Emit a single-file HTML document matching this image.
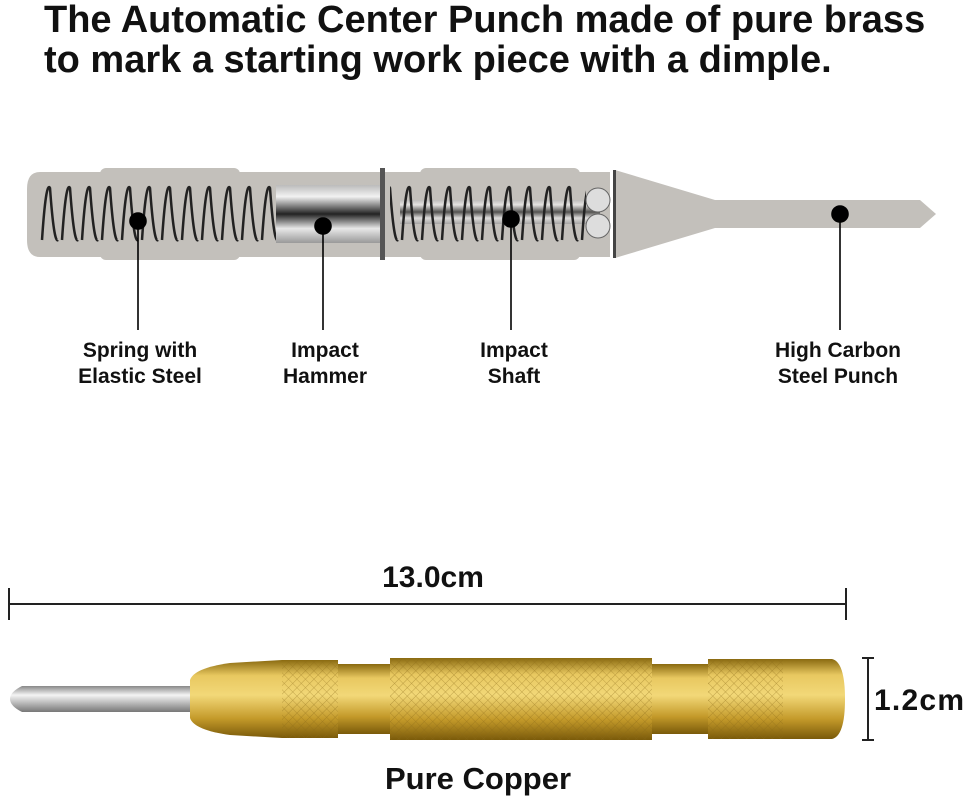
<!DOCTYPE html>
<html><head><meta charset="utf-8"><style>
html,body{margin:0;padding:0;background:#fff;}
body{width:971px;height:804px;overflow:hidden;font-family:"Liberation Sans",Arial,sans-serif;}
</style></head><body>
<svg width="971" height="804" viewBox="0 0 971 804" xmlns="http://www.w3.org/2000/svg" font-family="Liberation Sans, Arial, sans-serif">
<defs>
<linearGradient id="cyl" x1="0" y1="0" x2="0" y2="1">
<stop offset="0" stop-color="#bbb"/><stop offset="0.2" stop-color="#f2f2f2"/><stop offset="0.5" stop-color="#222"/><stop offset="0.75" stop-color="#e8e8e8"/><stop offset="1" stop-color="#999"/></linearGradient>
<linearGradient id="gold" x1="0" y1="0" x2="0" y2="1">
<stop offset="0" stop-color="#8a6a10"/><stop offset="0.2" stop-color="#e8c860"/><stop offset="0.45" stop-color="#f2d878"/><stop offset="0.75" stop-color="#c49a2a"/><stop offset="1" stop-color="#7a5a0a"/></linearGradient>
<linearGradient id="steel" x1="0" y1="0" x2="0" y2="1">
<stop offset="0" stop-color="#888"/><stop offset="0.35" stop-color="#f4f4f4"/><stop offset="1" stop-color="#777"/></linearGradient>
<pattern id="knurl" width="6" height="6" patternUnits="userSpaceOnUse" patternTransform="rotate(45)">
<path d="M0 0H6M0 0V6" stroke="#8a6a18" stroke-width="0.8" opacity="0.6"/></pattern>
<pattern id="spring" width="20" height="60" patternUnits="userSpaceOnUse" x="40" y="184">
<path d="M2 56 Q6 -4 10 4 Q14 60 18 56" fill="none" stroke="#222" stroke-width="2.5"/></pattern>
</defs>
<text x="44" y="32" font-size="38" font-weight="bold" fill="#111">The Automatic Center Punch made of pure brass</text>
<text x="44" y="72" font-size="38" font-weight="bold" fill="#111">to mark a starting work piece with a dimple.</text>

<!-- top punch -->
<path d="M40 172 H610 V257 H40 Q27 257 27 240 V189 Q27 172 40 172Z" fill="#c3c0bb"/>
<rect x="100" y="168" width="140" height="92" rx="6" fill="#c3c0bb"/>
<rect x="420" y="168" width="160" height="92" rx="6" fill="#c3c0bb"/>
<path d="M615 170 L715 200 V228 L615 258Z" fill="#c3c0bb"/>
<path d="M715 200 H920 L936 214 L920 228 H715Z" fill="#c3c0bb"/>
<rect x="40" y="184" width="236" height="60" fill="url(#spring)"/>
<rect x="276" y="185" width="104" height="58" fill="url(#cyl)"/>
<rect x="380" y="168" width="5" height="92" fill="#555"/>
<rect x="400" y="200" width="200" height="24" fill="url(#cyl)" opacity="0.7"/>
<rect x="390" y="184" width="196" height="60" fill="url(#spring)"/>
<circle cx="598" cy="200" r="12" fill="#ddd" stroke="#666"/><circle cx="598" cy="226" r="12" fill="#ddd" stroke="#666"/>
<rect x="613" y="170" width="3" height="88" fill="#444"/>
<g fill="#000" stroke="#000" stroke-width="1.6">
<circle cx="138" cy="221" r="8"/><line x1="138" y1="221" x2="138" y2="330"/>
<circle cx="323" cy="226" r="8"/><line x1="323" y1="226" x2="323" y2="330"/>
<circle cx="511" cy="219" r="8"/><line x1="511" y1="219" x2="511" y2="330"/>
<circle cx="840" cy="214" r="8"/><line x1="840" y1="214" x2="840" y2="330"/>
</g>
<g font-size="21" font-weight="bold" fill="#111" text-anchor="middle">
<text x="140" y="357">Spring with</text><text x="140" y="383">Elastic Steel</text>
<text x="325" y="357">Impact</text><text x="325" y="383">Hammer</text>
<text x="514" y="357">Impact</text><text x="514" y="383">Shaft</text>
<text x="838" y="357">High Carbon</text><text x="838" y="383">Steel Punch</text>
</g>

<!-- dimension -->
<text x="433" y="587" font-size="30" font-weight="bold" fill="#111" text-anchor="middle">13.0cm</text>
<g stroke="#222" stroke-width="2"><line x1="9" y1="604" x2="846" y2="604"/><line x1="9" y1="588" x2="9" y2="620"/><line x1="846" y1="588" x2="846" y2="620"/>
<line x1="868" y1="658" x2="868" y2="740"/><line x1="862" y1="658" x2="874" y2="658"/><line x1="862" y1="740" x2="874" y2="740"/></g>
<text x="874" y="710" font-size="30" font-weight="bold" fill="#111" textLength="90">1.2cm</text>

<!-- bottom punch -->
<path d="M22 686 H192 V712 H22 Q10 706 10 699 Q10 692 22 686Z" fill="url(#steel)"/>
<path d="M190 680 Q194 668 230 663 L282 660 V738 L230 735 Q194 730 190 718Z" fill="url(#gold)"/>
<rect x="282" y="660" width="56" height="78" fill="url(#gold)"/><rect x="282" y="660" width="56" height="78" fill="url(#knurl)"/>
<rect x="338" y="664" width="52" height="70" fill="url(#gold)"/>
<rect x="390" y="658" width="262" height="82" fill="url(#gold)"/><rect x="390" y="658" width="262" height="82" fill="url(#knurl)"/>
<rect x="652" y="664" width="56" height="70" fill="url(#gold)"/>
<rect x="708" y="659" width="75" height="80" fill="url(#gold)"/><rect x="708" y="659" width="75" height="80" fill="url(#knurl)"/>
<path d="M783 659 H832 Q845 662 845 699 Q845 736 832 739 H783Z" fill="url(#gold)"/>
<text x="478" y="789" font-size="31" font-weight="bold" fill="#111" text-anchor="middle">Pure Copper</text>
</svg>
</body></html>
